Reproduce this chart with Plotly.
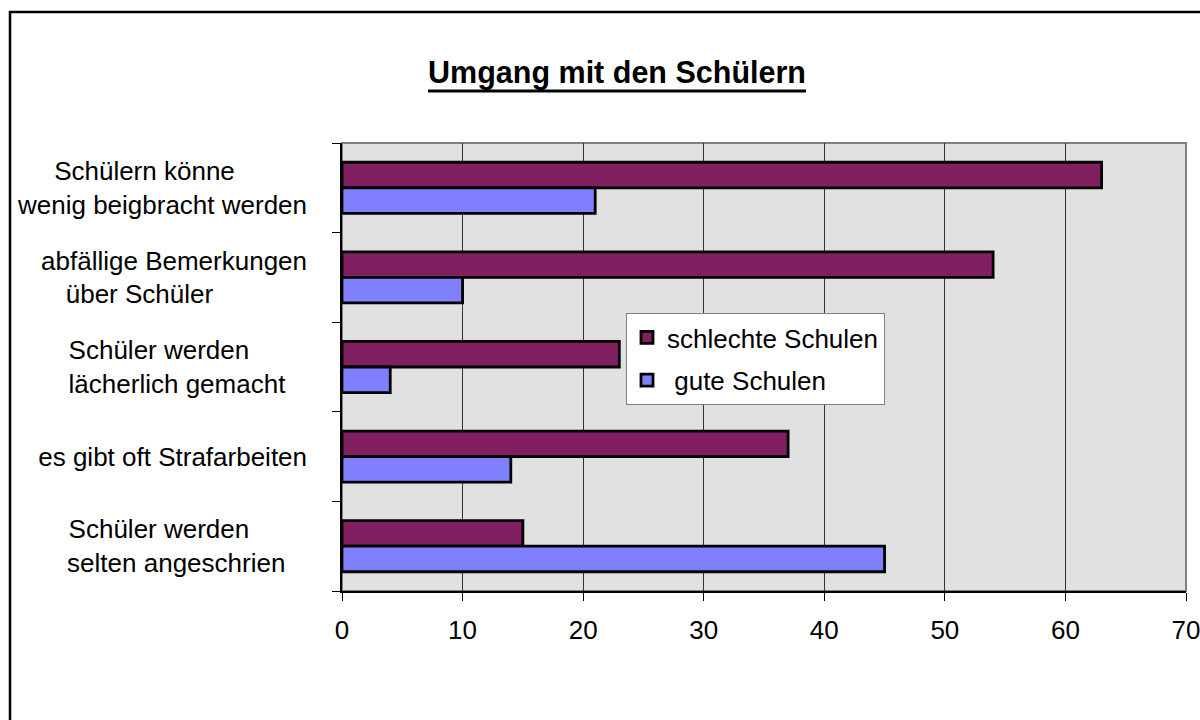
import plotly.graph_objects as go

# ---- data ----
categories = [
    "Schülern könne<br>wenig beigbracht werden",
    "abfällige Bemerkungen<br>über Schüler",
    "Schüler werden<br>lächerlich gemacht",
    "es gibt oft Strafarbeiten",
    "Schüler werden<br>selten angeschrien",
]
series_names = ["schlechte Schulen", "gute Schulen"]
schlechte = [63, 54, 23, 37, 15]
gute = [21, 10, 4, 14, 45]
x_ticks = [0, 10, 20, 30, 40, 50, 60, 70]
title_text = "Umgang mit den Schülern"

# ---- style ----
FONT = "Liberation Sans, Arial, sans-serif"
colors = ["#802060", "#8080FF"]
# trailing non-breaking-space padding per label line (mimics original alignment)
line_pad = [[10, 0], [0, 13], [8, 3], [0], [8, 3]]


def pad_label(label, pads):
    lines = label.split("<br>")
    return "<br>".join(l + "\u00a0" * p for l, p in zip(lines, pads))


ticktext = [pad_label(c, p) for c, p in zip(categories, line_pad)]

fig = go.Figure()
for name, vals, col, grp in zip(series_names, [schlechte, gute], colors, ["a", "b"]):
    fig.add_trace(go.Bar(
        y=categories, x=vals, name=name if grp == "a" else "\u00a0" + name,
        orientation="h", legendgroup=grp,
        marker=dict(color=col, line=dict(color="black", width=2.8)),
    ))

fig.update_layout(
    width=1200, height=720,
    margin=dict(l=342, r=14, t=143, b=129, autoexpand=False),
    paper_bgcolor="white", plot_bgcolor="#E1E1E1",
    barmode="group", bargap=0.43, bargroupgap=0,
    font=dict(family=FONT, size=26, color="black"),
    title=dict(
        text="<b>" + title_text + "</b>",
        x=617 / 1200, xref="container", xanchor="center",
        y=1 - 72 / 720, yref="container", yanchor="middle",
        font=dict(family=FONT, size=30.5, color="black"),
    ),
    legend=dict(
        x=(626 - 342) / 844, y=(591 - 313) / 448, xanchor="left", yanchor="top",
        bgcolor="white", bordercolor="#808080", borderwidth=1,
        font=dict(family=FONT, size=26, color="black"),
        traceorder="grouped", tracegroupgap=6,
    ),
    showlegend=True,
)

fig.update_xaxes(
    range=[0, 70], tickvals=x_ticks, ticktext=[str(t) for t in x_ticks],
    showgrid=True, gridcolor="#333333", gridwidth=1,
    showline=True, linecolor="black", linewidth=1.5,
    ticks="outside", ticklen=8, tickcolor="black", tickwidth=1,
    ticklabelstandoff=7, ticklabeloverflow="allow", automargin=False,
    zeroline=False, fixedrange=True,
)
fig.update_yaxes(
    type="category", autorange="reversed",
    tickvals=categories, ticktext=ticktext,
    tickson="boundaries", ticks="outside", ticklen=8, tickcolor="black", tickwidth=1,
    ticklabelstandoff=28, automargin=False,
    showline=True, linecolor="black", linewidth=1.5,
    showgrid=False, zeroline=False, fixedrange=True,
)

# plot area frame (grey) and outer chart border
fig.add_shape(type="rect", xref="paper", yref="paper", x0=0, x1=1, y0=0, y1=1,
              line=dict(color="#808080", width=2), layer="below")
fig.add_shape(type="rect", xref="paper", yref="paper",
              x0=(10 - 342) / 844, x1=1.2, y0=-0.6, y1=(591 - 12) / 448,
              line=dict(color="black", width=2.5), layer="above")
# thick title underline
fig.add_shape(type="line", xref="paper", yref="paper",
              x0=(428 - 342) / 844, x1=(806 - 342) / 844,
              y0=(591 - 91) / 448, y1=(591 - 91) / 448,
              line=dict(color="black", width=3), layer="above")

fig.write_html("out.html", config={"displayModeBar": False},
               post_script="document.body.style.margin='0';")
